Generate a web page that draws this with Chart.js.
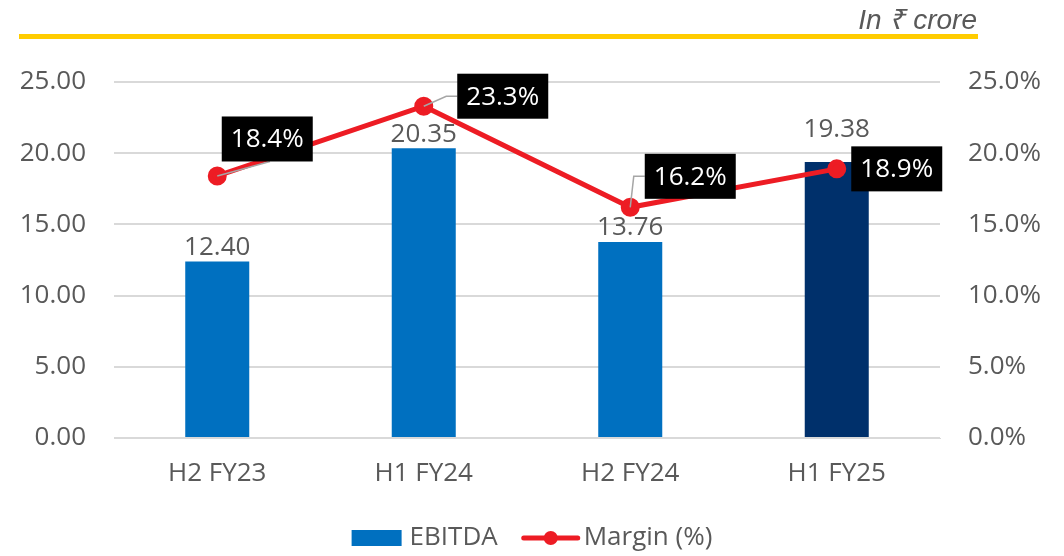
<!DOCTYPE html>
<html>
<head>
<meta charset="utf-8">
<script src="https://cdn.jsdelivr.net/npm/chart.js@4"></script>
<style>
  body { margin: 0; background: #fff; }
  canvas { display: block; }
</style>
</head>
<body>
<canvas id="ebitda" width="1064" height="556"></canvas>
<script>
const periods = ['H2 FY23', 'H1 FY24', 'H2 FY24', 'H1 FY25'];
const ebitda = [12.40, 20.35, 13.76, 19.38];
const margin = [18.4, 23.3, 16.2, 18.9];
const leftTicks = [0, 5, 10, 15, 20, 25];
const rightTicks = [0, 5, 10, 15, 20, 25];

const barColors = ['#0070C0', '#0070C0', '#0070C0', '#00306B'];
// label placement tweaks (pixels)
const barLabelLift = [0, 0, 0, 18];
const marginLabelShift = [[50, -37], [79, -10], [60, -31], [60, 0]];
const leaderEnd = [[270, 'bottom'], [null, 'left'], [null, 'left'], [null, 'none']];

const fontFamily = "'Open Sans', sans-serif";
const grey = '#595959';

const headerAndLegend = {
  id: 'headerAndLegend',
  afterDraw(chart) {
    const ctx = chart.ctx;
    ctx.save();
    // header
    ctx.fillStyle = '#FFCC00';
    ctx.fillRect(19, 34, 959, 5);
    ctx.font = "italic 28px 'Liberation Sans', Arial, sans-serif";
    ctx.fillStyle = grey;
    ctx.textAlign = 'right';
    ctx.textBaseline = 'alphabetic';
    ctx.fillText('In ₹ crore', 977, 29);

    // legend
    ctx.font = '26px ' + fontFamily;
    const labels = chart.data.datasets.map((d) => d.label);
    const w1 = 50 + 8 + ctx.measureText(labels[0]).width;
    const w2 = 56 + 4 + ctx.measureText(labels[1]).width;
    const gap = 26;
    let x = (chart.width - (w1 + gap + w2)) / 2;
    const y = 538;
    ctx.fillStyle = '#0070C0';
    ctx.fillRect(x, y - 8, 50, 16);
    ctx.fillStyle = grey;
    ctx.textAlign = 'left';
    ctx.textBaseline = 'middle';
    ctx.fillText(labels[0], x + 58, y);
    x += w1 + gap;
    ctx.strokeStyle = '#ED1C24';
    ctx.lineWidth = 5;
    ctx.lineCap = 'round';
    ctx.beginPath();
    ctx.moveTo(x, y);
    ctx.lineTo(x + 54, y);
    ctx.stroke();
    ctx.fillStyle = '#ED1C24';
    ctx.beginPath();
    ctx.arc(x + 27, y, 7, 0, Math.PI * 2);
    ctx.fill();
    ctx.fillStyle = grey;
    ctx.fillText(labels[1], x + 60, y);
    ctx.restore();
  }
};

const valueLabels = {
  id: 'valueLabels',
  afterDatasetsDraw(chart) {
    const ctx = chart.ctx;
    ctx.save();
    ctx.font = '26px ' + fontFamily;

    // bar values
    chart.getDatasetMeta(0).data.forEach((bar, i) => {
      ctx.fillStyle = grey;
      ctx.textAlign = 'center';
      ctx.textBaseline = 'bottom';
      ctx.fillText(ebitda[i].toFixed(2), bar.x, bar.y - 1 - barLabelLift[i]);
    });

    // margin labels in black boxes
    const boxW = 91;
    const boxH = 45;
    chart.getDatasetMeta(1).data.forEach((pt, i) => {
      const cx = pt.x + marginLabelShift[i][0];
      const cy = pt.y + marginLabelShift[i][1];
      const left = cx - boxW / 2;
      const top = cy - boxH / 2;
      const side = leaderEnd[i][1];
      ctx.strokeStyle = '#A6A6A6';
      ctx.lineWidth = 1.5;
      if (side === 'bottom') {
        ctx.beginPath();
        ctx.moveTo(pt.x, pt.y);
        ctx.lineTo(leaderEnd[i][0], top + boxH);
        ctx.stroke();
      } else if (side === 'left') {
        ctx.beginPath();
        ctx.moveTo(pt.x, pt.y);
        ctx.lineTo(left - 11, cy);
        ctx.lineTo(left, cy);
        ctx.stroke();
      }
      ctx.fillStyle = '#000';
      ctx.fillRect(left, top, boxW, boxH);
      ctx.fillStyle = '#fff';
      ctx.textAlign = 'center';
      ctx.textBaseline = 'middle';
      ctx.fillText(margin[i].toFixed(1) + '%', cx, cy + 1);
    });
    ctx.restore();
  }
};

new Chart(document.getElementById('ebitda'), {
  data: {
    labels: periods,
    datasets: [
      {
        type: 'bar',
        label: 'EBITDA',
        data: ebitda,
        backgroundColor: barColors,
        yAxisID: 'y',
        barPercentage: 0.31,
        categoryPercentage: 1,
        order: 1
      },
      {
        type: 'line',
        label: 'Margin (%)',
        data: margin,
        borderColor: '#ED1C24',
        backgroundColor: '#ED1C24',
        borderWidth: 5,
        pointRadius: 7,
        pointHoverRadius: 7,
        yAxisID: 'y1',
        order: 0
      }
    ]
  },
  options: {
    responsive: false,
    animation: false,
    layout: {
      padding: { top: 82, bottom: 58, left: 0, right: 0 }
    },
    plugins: {
      legend: { display: false },
      tooltip: { enabled: false }
    },
    scales: {
      x: {
        grid: { display: false },
        border: { color: '#D9D9D9' },
        ticks: {
          color: grey,
          font: { family: fontFamily, size: 26 },
          padding: 12
        },
        afterFit: (scale) => { scale.height = 60; }
      },
      y: {
        position: 'left',
        min: 0,
        max: 25,
        afterBuildTicks: (scale) => { scale.ticks = leftTicks.map((v) => ({ value: v })); },
        grid: { color: '#D9D9D9', lineWidth: 2, drawTicks: false },
        border: { display: false },
        ticks: {
          color: grey,
          font: { family: fontFamily, size: 26 },
          padding: 28,
          callback: (v) => v.toFixed(2)
        },
        afterFit: (scale) => { scale.width = 114; }
      },
      y1: {
        position: 'right',
        min: 0,
        max: 25,
        afterBuildTicks: (scale) => { scale.ticks = rightTicks.map((v) => ({ value: v })); },
        grid: { display: false, drawTicks: false },
        border: { display: false },
        ticks: {
          color: grey,
          font: { family: fontFamily, size: 26 },
          padding: 28,
          callback: (v) => v.toFixed(1) + '%'
        },
        afterFit: (scale) => { scale.width = 124; }
      }
    }
  },
  plugins: [valueLabels, headerAndLegend]
});
</script>
</body>
</html>
